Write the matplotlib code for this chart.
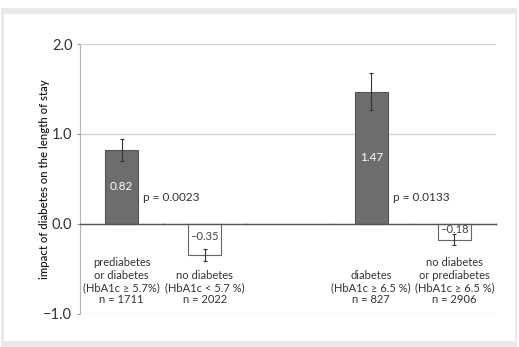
import matplotlib.pyplot as plt
from matplotlib.patches import Rectangle
import numpy as np

plt.rcParams['font.family'] = ['Lato', 'DejaVu Sans']

# groups (the third slot is left empty as a gap between the two comparisons)
group_labels = [
    "prediabetes\nor diabetes\n(HbA1c ≥ 5.7%)\nn = 1711",
    "no diabetes\n(HbA1c < 5.7 %)\nn = 2022",
    "",
    "diabetes\n(HbA1c ≥ 6.5 %)\nn = 827",
    "no diabetes\nor prediabetes\n(HbA1c ≥ 6.5 %)\nn = 2906",
]
slots = [0, 1, 3, 4]
values = [0.82, -0.35, 1.47, -0.18]
errors = [0.12, 0.07, 0.205, 0.06]
filled = [True, False, True, False]
p_values = ["p = 0.0023", "p = 0.0133"]

fig = plt.figure(figsize=(5.19, 3.47), dpi=100)
W, H = 519, 347

# grey frame around the panel
fig.patches.append(Rectangle((1 / W, 0), 516 / W, 1 - 8 / H,
                             transform=fig.transFigure, facecolor='#e9e9e9',
                             edgecolor='none', zorder=-2))
fig.patches.append(Rectangle((4 / W, 6 / H), 511 / W, 1 - 20 / H,
                             transform=fig.transFigure, facecolor='white',
                             edgecolor='none', zorder=-1))

ax = fig.add_axes([80 / W, 1 - 313.5 / H, 416 / W, 269.5 / H])
ax.set_facecolor('none')

bar_w = 0.4
for s, v, e, f in zip(slots, values, errors, filled):
    ax.bar(s, v, width=bar_w, color='#6d6d6d' if f else 'white',
           edgecolor='#555555' if f else '#666666', linewidth=0.8, zorder=3)
    ax.errorbar(s, v, yerr=e, fmt='none', ecolor='#333333', elinewidth=0.8,
                capsize=1.5, capthick=0.8, zorder=4)
    if f:
        ax.text(s, v / 2, f"{v:.2f}", color='white', ha='center', va='center',
                fontsize=8.5, zorder=5)
    else:
        ax.text(s, v + 0.21 if v < -0.3 else v / 2 + 0.02, f"−{abs(v):.2f}",
                color='#444444', ha='center', va='center', fontsize=8, zorder=5)

# p-values next to the filled bars
for s, p in zip([0, 3], p_values):
    ax.text(s + 0.26, 0.29, p, ha='left', va='center', fontsize=8.5,
            color='#333333')

# group descriptions below the zero line
for i, lab in enumerate(group_labels):
    if lab:
        ax.text(i, -0.91, lab, ha='center', va='bottom', fontsize=8,
                color='#333333', linespacing=1.15)

ax.set_xlim(-0.5, 4.5)
ax.set_ylim(-1.0, 2.0)
ax.set_yticks([-1.0, 0.0, 1.0, 2.0])
ax.set_yticklabels(["−1.0", "0.0", "1.0", "2.0"], fontsize=10.5, color='#333333')
ax.yaxis.grid(True, color='#d6d6d6', linewidth=1.0, zorder=0)
ax.set_axisbelow(True)

ax.spines['top'].set_visible(False)
ax.spines['right'].set_visible(False)
ax.spines['left'].set_color('#b5b5b5')
ax.spines['bottom'].set_position(('data', 0))
ax.spines['bottom'].set_color('#555555')
ax.spines['bottom'].set_linewidth(1.0)
ax.spines['bottom'].set_zorder(4)

ax.set_xticks(np.arange(-0.5, 5.0, 1.0))
ax.set_xticklabels([])
ax.tick_params(axis='x', length=2, color='#888888', direction='inout')
ax.tick_params(axis='y', length=2.5, color='#999999', pad=3)

ax.set_ylabel("impact of diabetes on the length of stay", fontsize=8.2,
              color='#111111', fontweight='medium')
ax.yaxis.set_label_coords(-30 / 416, 0.5)

fig.savefig("out.png", dpi=100)
